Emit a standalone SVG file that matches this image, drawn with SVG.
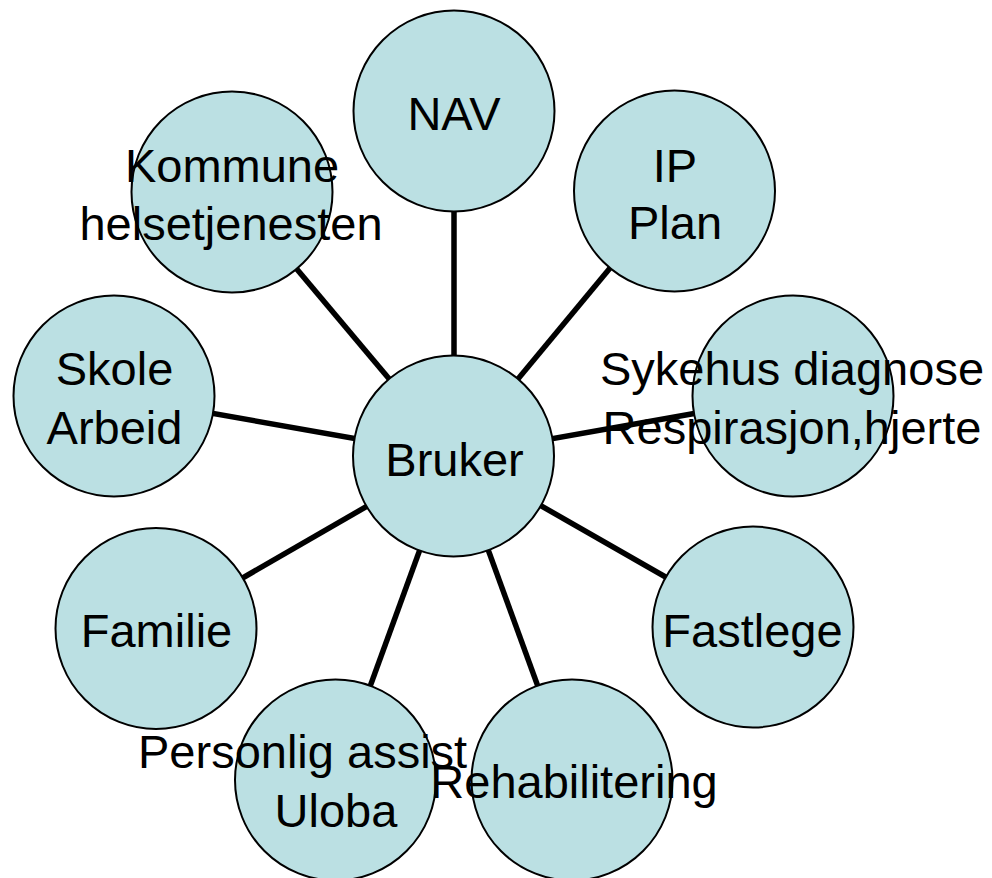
<svg xmlns="http://www.w3.org/2000/svg" width="992" height="878" viewBox="0 0 992 878">
<style>
.n{fill:#BBE0E3;stroke:#000;stroke-width:2}
.t{font-family:"Liberation Sans",Arial,sans-serif;font-size:47px;fill:#000;text-anchor:middle}
.c{stroke:#000;stroke-width:5.5;fill:none}
</style>
<rect width="992" height="878" fill="#fff"/>
<g id="connectors" class="c">
<line x1="454" y1="456" x2="454" y2="111"/>
<line x1="454" y1="456" x2="674" y2="191"/>
<line x1="454" y1="456" x2="232" y2="192"/>
<line x1="454" y1="456" x2="793" y2="396"/>
<line x1="454" y1="456" x2="114" y2="396"/>
<line x1="454" y1="456" x2="156" y2="628"/>
<line x1="454" y1="456" x2="753" y2="627"/>
<line x1="454" y1="456" x2="336" y2="780"/>
<line x1="454" y1="456" x2="572" y2="780"/>
</g>
<g id="nav"><circle class="n" cx="454" cy="111" r="100.5"/><text class="t" x="454" y="130">NAV</text></g>
<g id="ip"><circle class="n" cx="674.5" cy="191" r="100.5"/><text class="t" x="675" y="182">IP</text><text class="t" x="675" y="239">Plan</text></g>
<g id="kommune"><circle class="n" cx="232" cy="192" r="100.5"/><text class="t" x="232" y="182">Kommune</text><text class="t" x="231" y="240">helsetjenesten</text></g>
<g id="sykehus"><circle class="n" cx="793" cy="396" r="100.5"/><text class="t" x="792" y="385">Sykehus diagnose</text><text class="t" x="792" y="444">Respirasjon,hjerte</text></g>
<g id="skole"><circle class="n" cx="114" cy="396" r="100.5"/><text class="t" x="114.5" y="385">Skole</text><text class="t" x="114.5" y="444">Arbeid</text></g>
<g id="bruker"><circle class="n" cx="453.5" cy="456" r="100.5"/><text class="t" x="454.5" y="476">Bruker</text></g>
<g id="familie"><circle class="n" cx="156" cy="628.5" r="100.5"/><text class="t" x="156.5" y="647">Familie</text></g>
<g id="fastlege"><circle class="n" cx="753" cy="627" r="100.5"/><text class="t" x="752.5" y="647">Fastlege</text></g>
<g id="personlig"><circle class="n" cx="335.5" cy="780" r="100.5"/><text class="t" x="138" y="768" style="text-anchor:start">Personlig assist</text><text class="t" x="336" y="827">Uloba</text></g>
<g id="rehabilitering"><circle class="n" cx="572" cy="780" r="100.5"/><text class="t" x="574" y="798">Rehabilitering</text></g>
</svg>
